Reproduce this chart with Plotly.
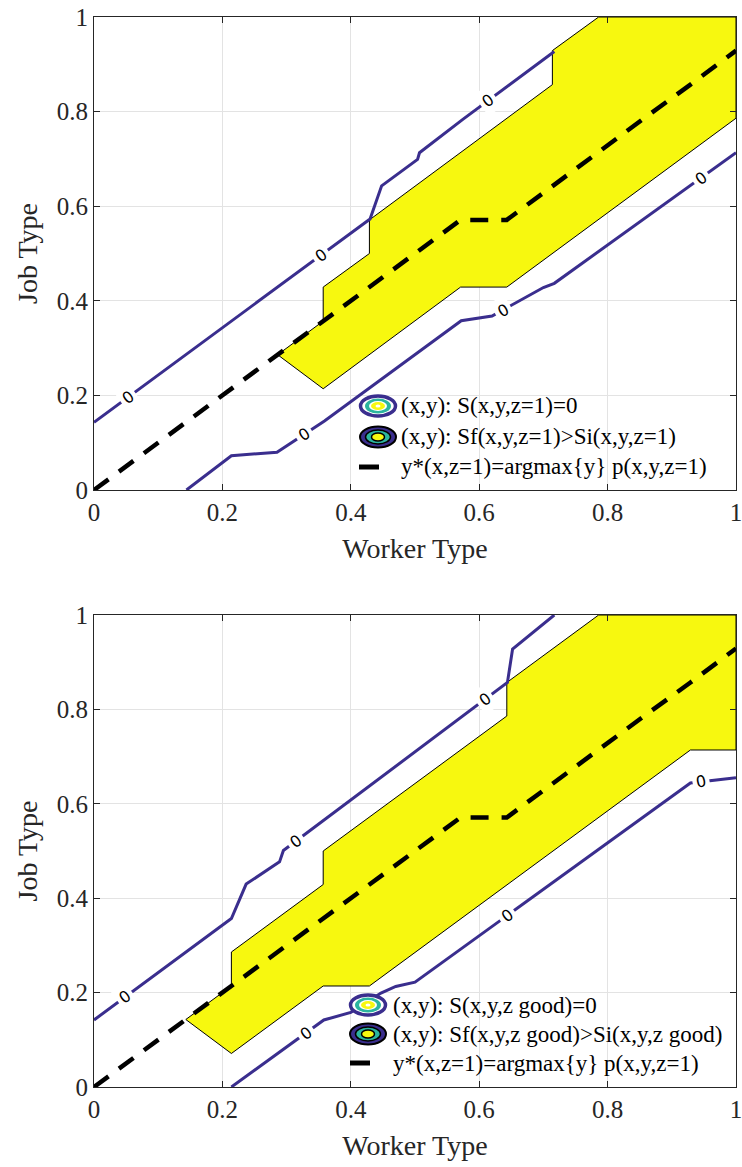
import plotly.graph_objects as go
from plotly.subplots import make_subplots

# ---------------- data ----------------
ticks = [0, 0.2, 0.4, 0.6, 0.8, 1]
tick_text = ["0", "0.2", "0.4", "0.6", "0.8", "1"]

# optimal job type y*(x, z=1)
x_opt = [0, 0.071, 0.143, 0.214, 0.286, 0.357, 0.429, 0.5, 0.571, 0.643, 0.714, 0.786, 0.857, 0.929, 1.0]
y_opt = [0, 0.071, 0.143, 0.214, 0.286, 0.357, 0.429, 0.5, 0.571, 0.571, 0.643, 0.714, 0.786, 0.857, 0.929]

# region Sf > Si (top panel)
reg1_x = [0.286, 0.357, 0.357, 0.429, 0.429, 0.714, 0.714, 0.786, 1.0, 1.0, 0.643, 0.571, 0.357, 0.286]
reg1_y = [0.286, 0.357, 0.429, 0.5, 0.571, 0.857, 0.929, 1.0, 1.0, 0.786, 0.429, 0.429, 0.214, 0.286]
# region Sf > Si (bottom panel)
reg2_x = [0.143, 0.214, 0.214, 0.357, 0.357, 0.643, 0.643, 0.786, 1.0, 1.0, 0.929, 0.429, 0.357, 0.214, 0.143]
reg2_y = [0.143, 0.214, 0.286, 0.429, 0.5, 0.786, 0.857, 1.0, 1.0, 0.714, 0.714, 0.214, 0.214, 0.071, 0.143]

# S = 0 contours (top panel)
c1u_x = [0, 0.430, 0.448, 0.504, 0.507, 0.575, 0.717]
c1u_y = [0.143, 0.573, 0.643, 0.699, 0.713, 0.784, 0.927]
c1l_x = [0.144, 0.214, 0.285, 0.359, 0.572, 0.620, 0.700, 0.717, 1.0]
c1l_y = [0, 0.0725, 0.080, 0.146, 0.358, 0.368, 0.428, 0.437, 0.713]
# S = 0 contours (bottom panel)
c2u_x = [0, 0.214, 0.237, 0.289, 0.295, 0.644, 0.652, 0.717]
c2u_y = [0.142, 0.357, 0.430, 0.477, 0.501, 0.857, 0.928, 1.0]
c2l_x = [0.214, 0.358, 0.40, 0.447, 0.47, 0.50, 0.929, 1.0]
c2l_y = [0, 0.142, 0.158, 0.199, 0.213, 0.222, 0.644, 0.655]

# contour labels (x, y, angle)
lab1_x = [0.053, 0.353, 0.614, 0.327, 0.637, 0.945]
lab1_y = [0.196, 0.496, 0.823, 0.118, 0.380, 0.659]
lab1_a = [-36, -36, -36, -33, -29, -36]
lab2_x = [0.049, 0.314, 0.609, 0.330, 0.644, 0.945]
lab2_y = [0.191, 0.520, 0.821, 0.114, 0.364, 0.647]
lab2_a = [-36, -36, -36, -36, -36, -10]

legend1 = ["(x,y): S(x,y,z=1)=0", "(x,y): Sf(x,y,z=1)>Si(x,y,z=1)", "y*(x,z=1)=argmax{y} p(x,y,z=1)"]
legend2 = ["(x,y): S(x,y,z good)=0", "(x,y): Sf(x,y,z good)>Si(x,y,z good)", "y*(x,z=1)=argmax{y} p(x,y,z=1)"]

# ---------------- style ----------------
W, H = 742, 1167
ML, MR, MT, MB = 94, 6, 17, 80
PW = W - ML - MR
YELLOW = "#f7f80f"
BLUE = "#3a2e8e"
TEAL = "#2cb59f"
FONT = "Liberation Serif"
TXT = "#262626"

fig = make_subplots(rows=2, cols=1, vertical_spacing=0.117)

panels = [
    (1, reg1_x, reg1_y, [(c1u_x, c1u_y), (c1l_x, c1l_y)], (lab1_x, lab1_y, lab1_a)),
    (2, reg2_x, reg2_y, [(c2u_x, c2u_y), (c2l_x, c2l_y)], (lab2_x, lab2_y, lab2_a)),
]

for row, rx, ry, conts, labs in panels:
    fig.add_trace(go.Scatter(x=rx, y=ry, mode="lines", fill="toself", fillcolor=YELLOW,
                             line=dict(color="black", width=1), showlegend=False, hoverinfo="skip"),
                  row=row, col=1)
    for cx, cy in conts:
        fig.add_trace(go.Scatter(x=cx, y=cy, mode="lines", line=dict(color=BLUE, width=3),
                                 showlegend=False, hoverinfo="skip"), row=row, col=1)
    fig.add_trace(go.Scatter(x=x_opt, y=y_opt, mode="lines",
                             line=dict(color="black", width=4.5, dash="18px,13px"),
                             showlegend=False, hoverinfo="skip"), row=row, col=1)
    xr = "x" if row == 1 else "x2"
    yr = "y" if row == 1 else "y2"
    for lx, ly, la in zip(*labs):
        fig.add_annotation(x=lx, y=ly, xref=xr, yref=yr, text="0", showarrow=False,
                           textangle=la, bgcolor="white", borderpad=3,
                           font=dict(family="DejaVu Sans", size=16, color="black"))

# axis domains
plot_h = H - MT - MB
top_dom = [(H - MB - 490) / plot_h, 1.0]
bot_dom = [0.0, (H - MB - 615) / plot_h]

axis_common = dict(range=[0, 1], tickvals=ticks, ticktext=tick_text, showgrid=True,
                   gridcolor="#e3e3e3", gridwidth=1, zeroline=False, showline=True,
                   linecolor=TXT, linewidth=1, mirror="ticks", ticks="inside", ticklen=6,
                   tickcolor=TXT, ticklabeloverflow="allow", automargin=False,
                   tickfont=dict(family=FONT, size=25, color=TXT))

fig.update_xaxes(**axis_common)
fig.update_yaxes(**axis_common)
fig.update_xaxes(title=dict(text="Worker Type", font=dict(family=FONT, size=28, color=TXT), standoff=13))
fig.update_yaxes(title=dict(text="Job Type", font=dict(family=FONT, size=28, color=TXT), standoff=10))
fig.update_layout(yaxis=dict(domain=top_dom), yaxis2=dict(domain=bot_dom),
                  xaxis=dict(domain=[0, 1]), xaxis2=dict(domain=[0, 1]))

# ---------------- legends (drawn manually, MATLAB-style, no box) ----------------
def px_to_dom_x(px):
    return (px - ML) / PW

legend_specs = [
    # (xref, yref, axis_bottom_px, axis_h_px, icon_cx, icon_ys, line_cx, line_y, text_x, texts)
    ("x domain", "y domain", 490, 473, 378, [406, 437], 369, 467, 399, legend1),
    ("x2 domain", "y2 domain", 1087, 472, 368, [1005, 1034], 360, 1063, 391, legend2),
]

for xref, yref, yb, yh, icx, iys, lcx, ly, tx, texts in legend_specs:
    def ydom(py):
        return (yb - py) / yh

    def ell(cy, w, h, fill, lc, lw):
        fig.add_shape(type="circle", xref=xref, yref=yref,
                      x0=px_to_dom_x(icx - w / 2), x1=px_to_dom_x(icx + w / 2),
                      y0=ydom(cy + h / 2), y1=ydom(cy - h / 2),
                      fillcolor=fill, line=dict(color=lc, width=lw), layer="above")
    iw, ih = 38, 23
    # icon 1: open rings
    cy = iys[0]
    ell(cy, iw - 3, ih - 3, "white", BLUE, 3.5)
    ell(cy, 26, 15, TEAL, TEAL, 0)
    ell(cy, 18, 10, "white", "white", 0)
    ell(cy, 14, 8, YELLOW, YELLOW, 0)
    ell(cy, 5, 3, "white", "white", 0)
    # icon 2: filled rings
    cy = iys[1]
    ell(cy, iw - 2, ih - 2, BLUE, "black", 2)
    ell(cy, 25, 14, TEAL, "black", 1.5)
    ell(cy, 13, 8, YELLOW, "black", 1.5)
    # line icon
    fig.add_shape(type="line", xref=xref, yref=yref,
                  x0=px_to_dom_x(lcx - 10), x1=px_to_dom_x(lcx + 10),
                  y0=ydom(ly), y1=ydom(ly), line=dict(color="black", width=5), layer="above")
    for t, py in zip(texts, iys + [ly]):
        fig.add_annotation(x=px_to_dom_x(tx), y=ydom(py), xref=xref, yref=yref, text=t,
                           showarrow=False, xanchor="left", yanchor="middle",
                           font=dict(family=FONT, size=23, color="black"))

fig.update_layout(width=W, height=H, margin=dict(l=ML, r=MR, t=MT, b=MB),
                  plot_bgcolor="white", paper_bgcolor="white", showlegend=False)

fig.write_html("out.html")
